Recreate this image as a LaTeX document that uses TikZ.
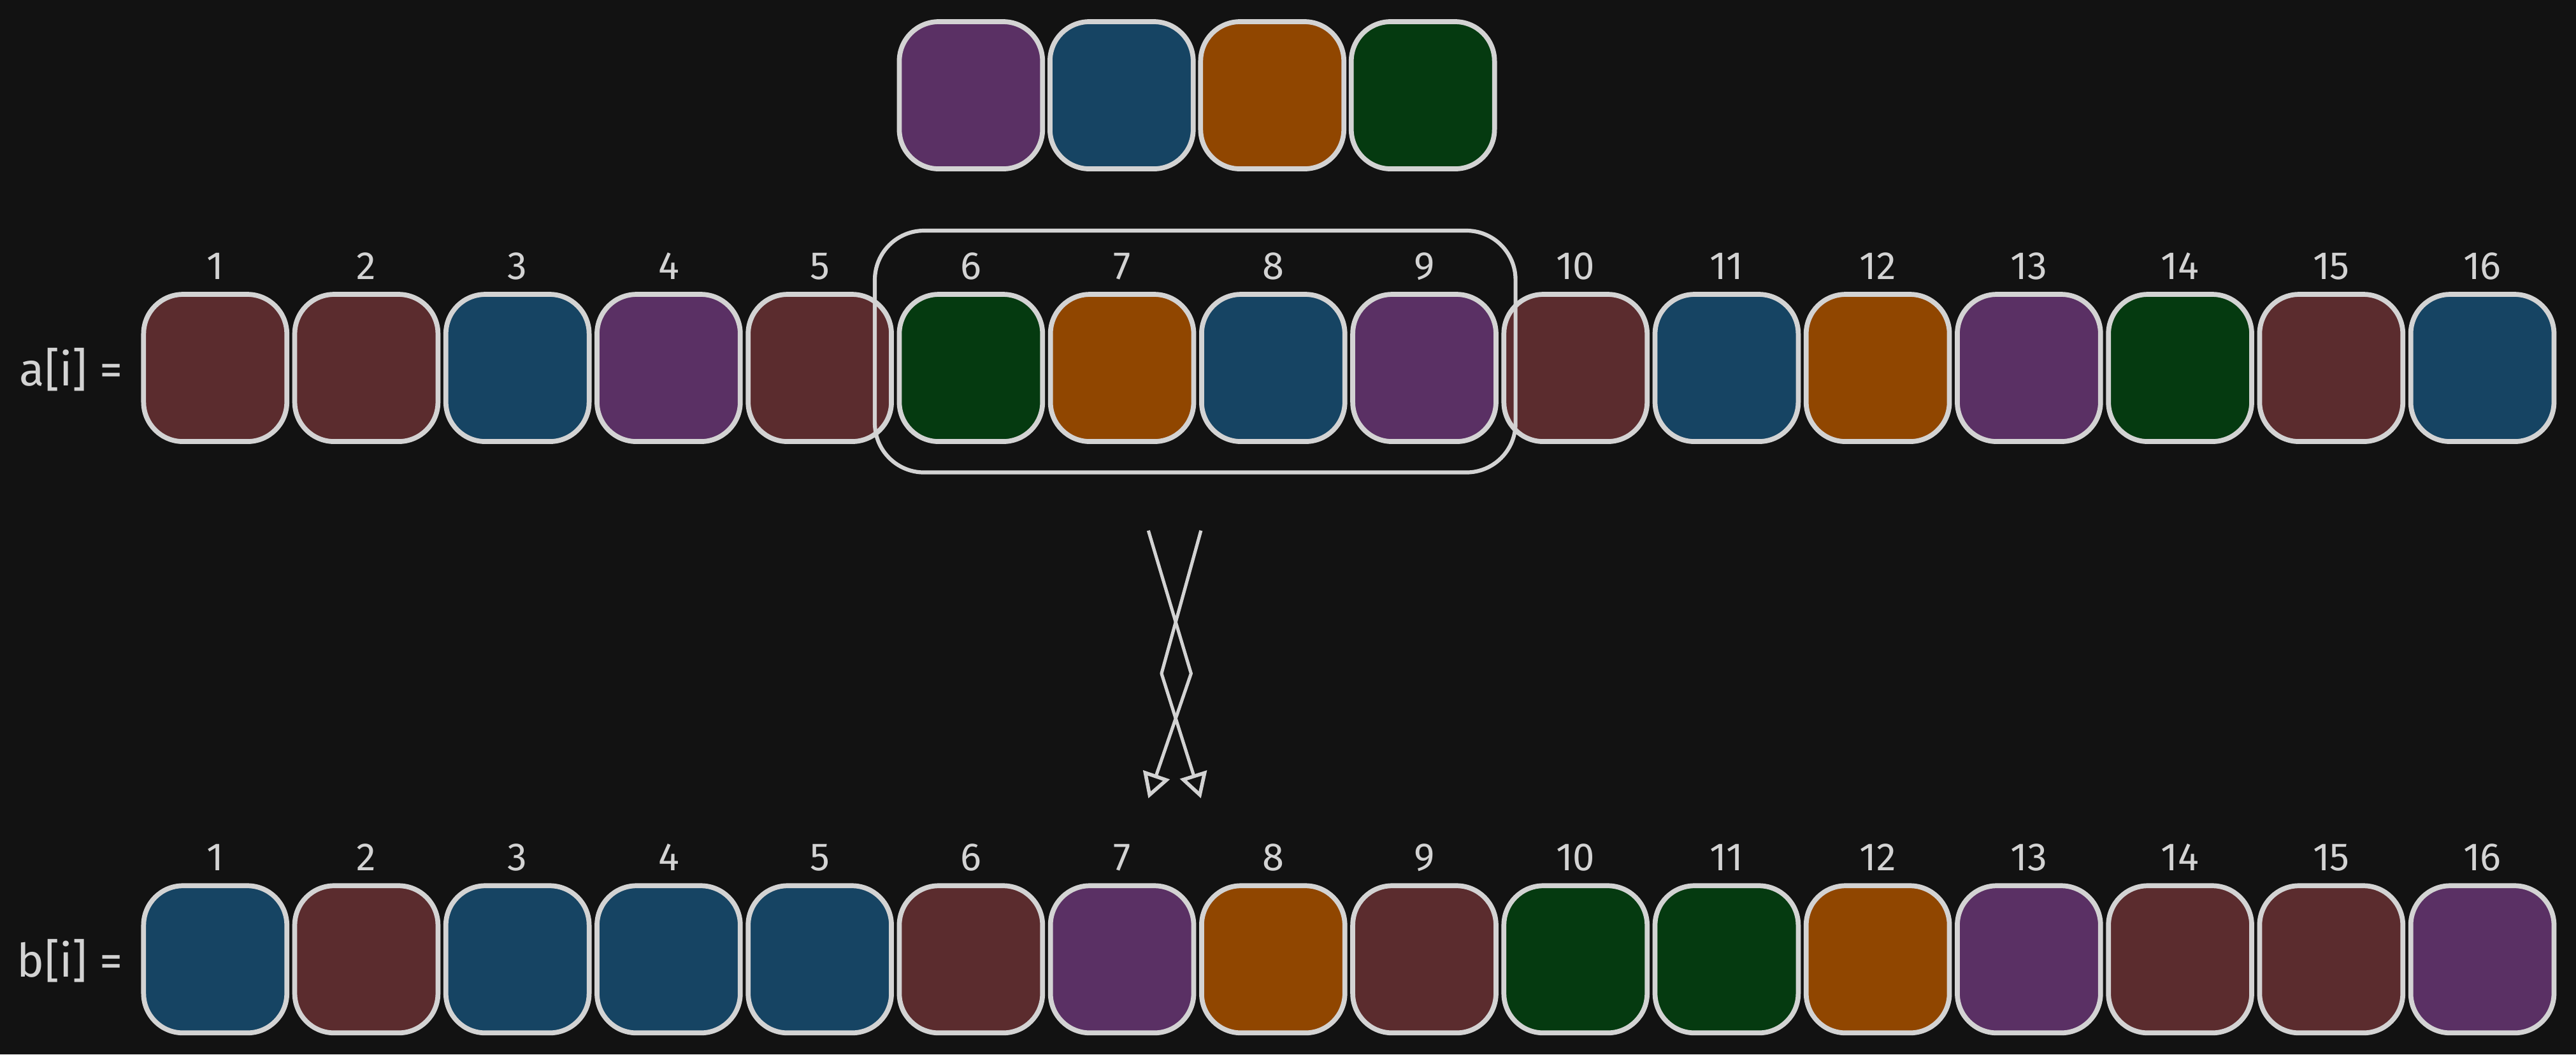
\documentclass[tikz,border=0pt]{standalone}
\usepackage{fontspec}
\setmainfont{Fira Sans}
\usetikzlibrary{arrows.meta}
\definecolor{bg}{HTML}{121212}
\definecolor{stroke}{HTML}{D3D3D3}
\definecolor{br}{HTML}{5B2C2E}
\definecolor{bl}{HTML}{164463}
\definecolor{pu}{HTML}{5A3064}
\definecolor{or}{HTML}{904600}
\definecolor{gr}{HTML}{053A10}
\begin{document}
\begin{tikzpicture}[x=0.25mm,y=-0.25mm,
  cell/.style={draw=stroke, line width=0.75mm, rounded corners=6mm,
    minimum width=21.8mm, minimum height=22.4mm, inner sep=0pt},
  idx/.style={text=stroke, font=\fontsize{17}{19}\selectfont, anchor=base, inner sep=0pt},
  lbl/.style={text=stroke, font=\fontsize{20}{22}\selectfont, anchor=east, inner sep=0pt},
  hlbox/.style={draw=stroke, line width=0.6mm, rounded corners=7.5mm,
    minimum width=97.5mm, minimum height=36.8mm, inner sep=0pt},
  arr/.style={draw=stroke, line width=0.5mm, line join=round,
    -{Triangle[open, length=3.8mm, width=4.2mm, line width=0.55mm]}}]
\fill[bg] (0,0) rectangle (1568,642);
\useasboundingbox (0,0) rectangle (1568,642);
% top group
\foreach \c [count=\i] in {pu,bl,or,gr} {
  \node[cell, fill=\c] (t\i) at ({591+91.7*(\i-1)},58) {};
}
% row a
\foreach \c [count=\i] in {br,br,bl,pu,br,gr,or,bl,pu,br,bl,or,pu,gr,br,bl} {
  \node[cell, fill=\c] (a\i) at ({131+92*(\i-1)},224) {};
  \node[idx] (la\i) at ({131+92*(\i-1)},170) {\i};
}
% row b
\foreach \c [count=\i] in {bl,br,bl,bl,bl,br,pu,or,br,gr,gr,or,pu,br,br,pu} {
  \node[cell, fill=\c] (b\i) at ({131+92*(\i-1)},584) {};
  \node[idx] (lb\i) at ({131+92*(\i-1)},530) {\i};
}
\node[lbl] (alabel) at (75,225) {a[i] =};
\node[lbl] (blabel) at (75,585) {b[i] =};
% highlight
\node[hlbox] (hl) at (727.5,214) {};
% crossing arrows
\coordinate (s1) at (699,323);
\coordinate (m1) at (725,410);
\coordinate (e1) at (699,486);
\coordinate (s2) at (731,323);
\coordinate (m2) at (707,410);
\coordinate (e2) at (731,486);
\draw[arr] (s1) -- (m1) -- (e1);
\draw[arr] (s2) -- (m2) -- (e2);
\end{tikzpicture}
\end{document}
